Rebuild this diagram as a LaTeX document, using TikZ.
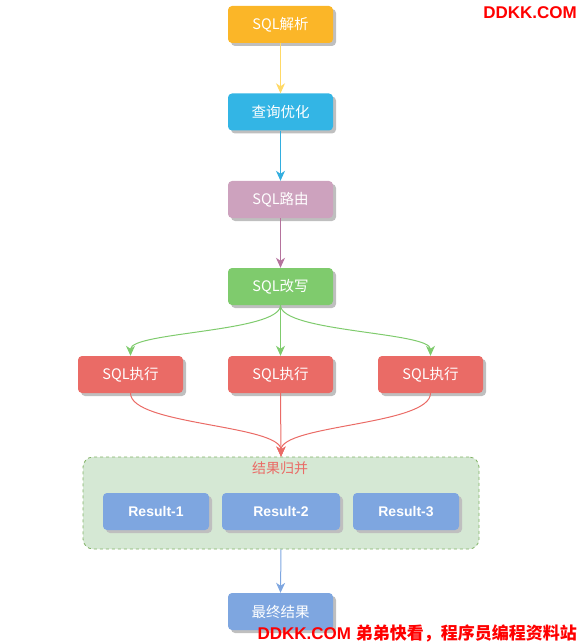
\documentclass[tikz,border=0pt]{standalone}
\usepackage{fontspec}
\setmainfont{Liberation Sans}
\newfontfamily\cjk{Noto Sans CJK SC}
\usetikzlibrary{arrows.meta,shadows}
\definecolor{cyel}{HTML}{FBB628}
\definecolor{cyelarr}{HTML}{FFD966}
\definecolor{cblu}{HTML}{33B5E5}
\definecolor{cbluarr}{HTML}{33AEDF}
\definecolor{cpink}{HTML}{CDA2BE}
\definecolor{cpinkarr}{HTML}{B5739D}
\definecolor{cgrn}{HTML}{7FCB6D}
\definecolor{cgrnarr}{HTML}{7FCB6D}
\definecolor{cred}{HTML}{EA6B66}
\definecolor{cres}{HTML}{7EA6E0}
\definecolor{cgfill}{HTML}{D5E8D4}
\definecolor{cgline}{HTML}{82B366}
\definecolor{wmred}{HTML}{FF0000}
\begin{document}
\begin{tikzpicture}[x=1pt,y=-1pt,
  box/.style={rectangle, rounded corners=4pt, minimum width=105pt, minimum height=37pt,
    inner sep=0pt, text=white, font=\cjk\fontsize{14.5}{16}\selectfont,
    drop shadow={shadow xshift=3pt,shadow yshift=-3pt,fill=black!25,opacity=1}},
  resbox/.style={box, font=\bfseries\fontsize{14}{16}\selectfont, fill=cres},
  arr/.style={line width=1pt, -{Stealth[length=10pt,width=9pt,inset=3pt]}},
  wm/.style={text=wmred, inner sep=0pt, anchor=east},
]
\useasboundingbox (0,0) rectangle (580,644);
% group
\node[rectangle, rounded corners=10pt, fill=cgfill, draw=cgline, dashed, line width=0.8pt,
  minimum width=396pt, minimum height=92pt, inner sep=0pt] (merge) at (281,503) {};
\node[text=cred, font=\cjk\fontsize{14}{16}\selectfont, inner sep=0pt] (mergelbl) at (280,468) {结果归并};

\node[box, fill=cyel] (parse) at (280.5,24.5) {SQL解析};
\node[box, fill=cblu] (opt) at (280.5,112) {查询优化};
\node[box, fill=cpink] (route) at (280.5,199.5) {SQL路由};
\node[box, fill=cgrn] (rewrite) at (280.5,286.5) {SQL改写};
\node[box, fill=cred] (ex1) at (130.5,374.5) {SQL执行};
\node[box, fill=cred] (ex2) at (280.5,374.5) {SQL执行};
\node[box, fill=cred] (ex3) at (430.5,374.5) {SQL执行};
\node[resbox, minimum width=106pt] (r1) at (156,511.5) {Result-1};
\node[resbox, minimum width=118pt] (r2) at (281,511.5) {Result-2};
\node[resbox, minimum width=106pt] (r3) at (406,511.5) {Result-3};
\node[box, fill=cres] (final) at (280.5,611.5) {最终结果};

\draw[arr, cyelarr] (parse.south) -- (opt.north);
\draw[arr, cbluarr] (opt.south) -- (route.north);
\draw[arr, cpinkarr] (route.south) -- (rewrite.north);
\draw[arr, cgrnarr] (rewrite.south) .. controls ([yshift=-27pt]rewrite.south) and ([yshift=24pt]ex1.north) .. (ex1.north);
\draw[arr, cgrnarr] (rewrite.south) -- (ex2.north);
\draw[arr, cgrnarr] (rewrite.south) .. controls ([yshift=-27pt]rewrite.south) and ([yshift=24pt]ex3.north) .. (ex3.north);
\draw[arr, cred] (ex1.south) .. controls ([yshift=-32pt]ex1.south) and ([yshift=32pt]merge.north) .. (merge.north);
\draw[arr, cred] (ex2.south) -- (merge.north);
\draw[arr, cred] (ex3.south) .. controls ([yshift=-32pt]ex3.south) and ([yshift=32pt]merge.north) .. (merge.north);
\draw[arr, cres] (merge.south) -- (final.north);

% watermarks
\node[wm, font=\bfseries\fontsize{17}{19}\selectfont] (wm1) at (577,13) {DDKK.COM};
\node[wm, font=\bfseries\fontsize{17}{19}\selectfont] (wm2) at (577,633) {DDKK.COM {\cjk\bfseries 弟弟快看，程序员编程资料站}};
\end{tikzpicture}
\end{document}
